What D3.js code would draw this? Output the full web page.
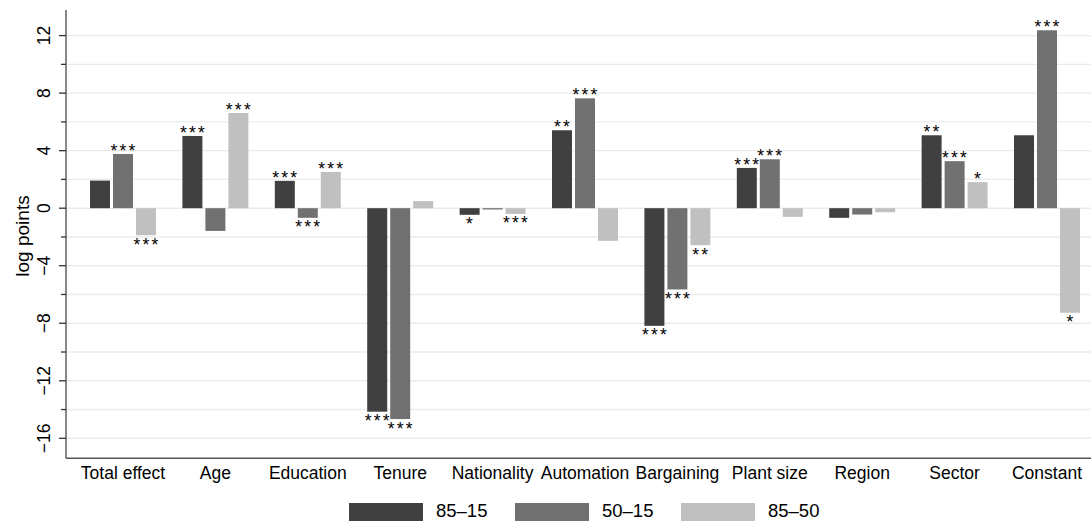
<!DOCTYPE html>
<html>
<head>
<meta charset="utf-8">
<script src="https://cdn.jsdelivr.net/npm/d3@7"></script>
<style>
  html, body { margin: 0; padding: 0; background: #fff; }
  svg { display: block; }
  text { font-family: "Liberation Sans", Arial, Helvetica, sans-serif; fill: #000; }
</style>
</head>
<body>
<svg id="chart" width="1091" height="521"></svg>
<script>
// Decomposition of wage inequality changes, in log points
const categories = ["Total effect", "Age", "Education", "Tenure", "Nationality", "Automation",
                    "Bargaining", "Plant size", "Region", "Sector", "Constant"];
const seriesNames = ["85\u201315", "50\u201315", "85\u201350"];
const values8515 = [1.92, 5.02, 1.90, -14.15, -0.46, 5.42, -8.18, 2.80, -0.67, 5.07, 5.07];
const values5015 = [3.77, -1.58, -0.67, -14.66, -0.09, 7.64, -5.65, 3.40, -0.44, 3.27, 12.37];
const values8550 = [-1.88, 6.62, 2.52, 0.49, -0.40, -2.27, -2.57, -0.60, -0.28, 1.81, -7.27];
const stars8515 = ["", "***", "***", "***", "*", "**", "***", "***", "", "**", ""];
const stars5015 = ["***", "", "***", "***", "", "***", "***", "***", "", "***", "***"];
const stars8550 = ["***", "***", "***", "", "***", "", "**", "", "", "*", "*"];
const yTickLabels = [-16, -12, -8, -4, 0, 4, 8, 12];
const yGridValues = d3.range(-16, 13, 2);

const seriesValues = [values8515, values5015, values8550];
const seriesStars = [stars8515, stars5015, stars8550];
const colors = ["#404040", "#717171", "#c0c0c0"];

const svg = d3.select("#chart");
const plot = { left: 66, right: 1091, top: 10, bottom: 458.3 };

const y = d3.scaleLinear().domain([-17.39, 13.78]).range([plot.bottom, plot.top]);
const x = d3.scaleBand().domain(categories).range([76.8, 1093.2])
  .paddingInner(0.286).paddingOuter(0.143);
const xs = d3.scaleBand().domain(seriesNames).range([0, x.bandwidth()]).paddingInner(0.1304);

// Horizontal gridlines
svg.append("g").selectAll("line").data(yGridValues).join("line")
  .attr("x1", plot.left).attr("x2", plot.right)
  .attr("y1", d => y(d)).attr("y2", d => y(d))
  .attr("stroke", "#ebebeb").attr("stroke-width", 1.4);

// Bars
const rows = [];
seriesNames.forEach((s, si) => {
  categories.forEach((c, ci) => {
    rows.push({ cat: c, series: s, si, v: seriesValues[si][ci], star: seriesStars[si][ci] });
  });
});

svg.append("g").selectAll("rect").data(rows).join("rect")
  .attr("x", d => x(d.cat) + xs(d.series))
  .attr("width", xs.bandwidth())
  .attr("y", d => Math.min(y(d.v), y(0)))
  .attr("height", d => Math.abs(y(d.v) - y(0)))
  .attr("fill", d => colors[d.si]);

// Significance stars
svg.append("g").selectAll("text").data(rows.filter(d => d.star)).join("text")
  .attr("x", d => x(d.cat) + xs(d.series) + xs.bandwidth() / 2 + 1)
  .attr("y", d => d.v >= 0 ? y(d.v) + 3 : y(d.v) + 15.5)
  .attr("text-anchor", "middle")
  .attr("font-size", 17.5)
  .attr("letter-spacing", 2.2)
  .text(d => d.star);

// Y axis
const yAxis = svg.append("g");
yAxis.append("line")
  .attr("x1", plot.left).attr("x2", plot.left)
  .attr("y1", plot.top).attr("y2", plot.bottom)
  .attr("stroke", "#555").attr("stroke-width", 1.4);
yAxis.selectAll("line.tick").data(yGridValues).join("line")
  .attr("class", "tick")
  .attr("x1", d => yTickLabels.includes(d) ? plot.left - 7 : plot.left - 5)
  .attr("x2", plot.left)
  .attr("y1", d => y(d)).attr("y2", d => y(d))
  .attr("stroke", "#333").attr("stroke-width", 1.3);
yAxis.selectAll("text").data(yTickLabels).join("text")
  .attr("transform", d => `translate(49.5,${y(d)}) rotate(-90)`)
  .attr("text-anchor", "middle")
  .attr("font-size", 17.5)
  .text(d => d < 0 ? "\u2212" + Math.abs(d) : String(d));

svg.append("text")
  .attr("transform", `translate(28.5,236) rotate(-90)`)
  .attr("text-anchor", "middle")
  .attr("font-size", 19)
  .text("log points");

// X axis
const xAxis = svg.append("g");
xAxis.append("line")
  .attr("x1", plot.left).attr("x2", plot.right)
  .attr("y1", plot.bottom).attr("y2", plot.bottom)
  .attr("stroke", "#555").attr("stroke-width", 1.4);
xAxis.selectAll("text").data(categories).join("text")
  .attr("x", d => x(d) + x.bandwidth() / 2)
  .attr("y", 479)
  .attr("text-anchor", "middle")
  .attr("font-size", 17.5)
  .text(d => d);

// Legend
const legendX = [349, 515, 681];
const legend = svg.append("g");
seriesNames.forEach((s, i) => {
  legend.append("rect")
    .attr("x", legendX[i]).attr("y", 503)
    .attr("width", 74).attr("height", 22)
    .attr("fill", colors[i]);
  legend.append("text")
    .attr("x", legendX[i] + 87).attr("y", 516.5)
    .attr("font-size", 18.5)
    .text(s);
});
</script>
</body>
</html>
